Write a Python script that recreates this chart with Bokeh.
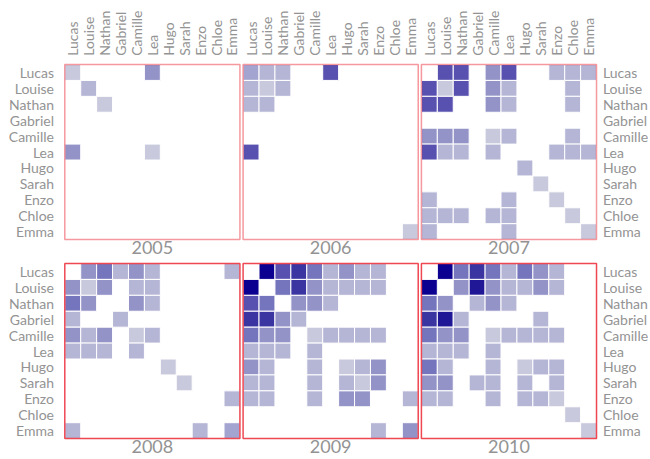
import math
from bokeh.plotting import figure
from bokeh.models import ColumnDataSource, Range1d
from bokeh.core.properties import value
from bokeh.embed import file_html
from bokeh.resources import INLINE

# ---------------- data ----------------
names = ["Lucas", "Louise", "Nathan", "Gabriel", "Camille", "Lea",
         "Hugo", "Sarah", "Enzo", "Chloe", "Emma"]
years = ["2005", "2006", "2007", "2008", "2009", "2010"]

m2005 = [
    [1, 0, 0, 0, 0, 4, 0, 0, 0, 0, 0],
    [0, 2, 0, 0, 0, 0, 0, 0, 0, 0, 0],
    [0, 0, 1, 0, 0, 0, 0, 0, 0, 0, 0],
    [0, 0, 0, 0, 0, 0, 0, 0, 0, 0, 0],
    [0, 0, 0, 0, 0, 0, 0, 0, 0, 0, 0],
    [4, 0, 0, 0, 0, 1, 0, 0, 0, 0, 0],
    [0, 0, 0, 0, 0, 0, 0, 0, 0, 0, 0],
    [0, 0, 0, 0, 0, 0, 0, 0, 0, 0, 0],
    [0, 0, 0, 0, 0, 0, 0, 0, 0, 0, 0],
    [0, 0, 0, 0, 0, 0, 0, 0, 0, 0, 0],
    [0, 0, 0, 0, 0, 0, 0, 0, 0, 0, 0],
]
m2006 = [
    [3, 2, 2, 0, 0, 6, 0, 0, 0, 0, 0],
    [2, 1, 2, 0, 0, 0, 0, 0, 0, 0, 0],
    [2, 2, 0, 0, 0, 0, 0, 0, 0, 0, 0],
    [0, 0, 0, 0, 0, 0, 0, 0, 0, 0, 0],
    [0, 0, 0, 0, 0, 0, 0, 0, 0, 0, 0],
    [6, 0, 0, 0, 0, 0, 0, 0, 0, 0, 0],
    [0, 0, 0, 0, 0, 0, 0, 0, 0, 0, 0],
    [0, 0, 0, 0, 0, 0, 0, 0, 0, 0, 0],
    [0, 0, 0, 0, 0, 0, 0, 0, 0, 0, 0],
    [0, 0, 0, 0, 0, 0, 0, 0, 0, 0, 0],
    [0, 0, 0, 0, 0, 0, 0, 0, 0, 0, 1],
]
m2007 = [
    [0, 6, 6, 0, 4, 6, 0, 0, 2, 2, 2],
    [6, 1, 6, 0, 4, 2, 0, 0, 0, 2, 0],
    [6, 6, 0, 0, 4, 2, 0, 0, 0, 2, 0],
    [0, 0, 0, 0, 0, 0, 0, 0, 0, 0, 0],
    [4, 4, 4, 0, 1, 2, 0, 0, 0, 2, 0],
    [6, 2, 2, 0, 2, 0, 0, 0, 2, 2, 2],
    [0, 0, 0, 0, 0, 0, 2, 0, 0, 0, 0],
    [0, 0, 0, 0, 0, 0, 0, 1, 0, 0, 0],
    [2, 0, 0, 0, 0, 2, 0, 0, 1, 0, 0],
    [2, 2, 2, 0, 2, 2, 0, 0, 0, 1, 0],
    [2, 0, 0, 0, 0, 2, 0, 0, 0, 0, 1],
]
m2008 = [
    [0, 4, 5, 2, 4, 2, 0, 0, 0, 0, 2],
    [4, 1, 4, 0, 2, 2, 0, 0, 0, 0, 0],
    [5, 4, 0, 0, 4, 2, 0, 0, 0, 0, 0],
    [2, 0, 0, 2, 0, 0, 0, 0, 0, 0, 0],
    [4, 2, 4, 0, 1, 2, 0, 0, 0, 0, 0],
    [2, 2, 2, 0, 2, 0, 0, 0, 0, 0, 0],
    [0, 0, 0, 0, 0, 0, 1, 0, 0, 0, 0],
    [0, 0, 0, 0, 0, 0, 0, 1, 0, 0, 0],
    [0, 0, 0, 0, 0, 0, 0, 0, 0, 0, 2],
    [0, 0, 0, 0, 0, 0, 0, 0, 0, 0, 0],
    [2, 0, 0, 0, 0, 0, 0, 0, 2, 0, 3],
]
m2009 = [
    [0, 9, 6, 7, 5, 2, 4, 2, 2, 0, 0],
    [9, 0, 5, 7, 4, 2, 2, 2, 2, 0, 0],
    [6, 5, 0, 4, 4, 2, 0, 0, 0, 0, 0],
    [7, 7, 4, 2, 0, 0, 0, 0, 0, 0, 0],
    [5, 4, 4, 0, 1, 2, 2, 2, 2, 0, 0],
    [2, 2, 2, 0, 2, 0, 0, 0, 0, 0, 0],
    [4, 2, 0, 0, 2, 0, 1, 2, 4, 0, 0],
    [2, 2, 0, 0, 2, 0, 2, 1, 4, 0, 0],
    [2, 2, 0, 0, 2, 0, 4, 4, 0, 0, 2],
    [0, 0, 0, 0, 0, 0, 0, 0, 0, 0, 0],
    [0, 0, 0, 0, 0, 0, 0, 0, 2, 0, 4],
]
m2010 = [
    [0, 9, 5, 7, 5, 2, 5, 4, 2, 0, 0],
    [9, 0, 4, 8, 4, 2, 2, 4, 2, 0, 0],
    [5, 4, 0, 2, 4, 2, 0, 0, 0, 0, 0],
    [7, 8, 2, 0, 0, 0, 0, 2, 0, 0, 0],
    [5, 4, 4, 0, 1, 2, 2, 2, 2, 0, 0],
    [2, 2, 2, 0, 2, 0, 0, 0, 0, 0, 0],
    [5, 2, 0, 0, 2, 0, 1, 2, 2, 0, 0],
    [4, 4, 0, 2, 2, 0, 2, 0, 2, 0, 0],
    [2, 2, 0, 0, 2, 0, 2, 2, 1, 0, 0],
    [0, 0, 0, 0, 0, 0, 0, 0, 0, 1, 0],
    [0, 0, 0, 0, 0, 0, 0, 0, 0, 0, 1],
]
matrices = [m2005, m2006, m2007, m2008, m2009, m2010]

# ---------------- style / layout ----------------
PALETTE = ["#c9c9dd", "#b5b5d6", "#a4a4d0", "#9393c8", "#7575bd",
           "#5951b0", "#3b35a2", "#1f1795", "#0b008f"]
FONT = value("Lato")
TXT = "#939393"
W, H = 650, 459
CELL = 15.92            # px per cell
LEFT_PX, TOP_PX = 64.3, 64.0
GX, GY = 0.2, 1.5       # gaps between panels, in cell units
N = len(names)

x_range = Range1d(-LEFT_PX / CELL, (W - LEFT_PX) / CELL)
y_range = Range1d((H - TOP_PX) / CELL, -TOP_PX / CELL)

p = figure(width=W, height=H, x_range=x_range, y_range=y_range,
           output_backend="svg", toolbar_location=None, title=None,
           x_axis_location=None, y_axis_location=None,
           min_border=0, min_border_left=0, min_border_right=0,
           min_border_top=0, min_border_bottom=0)
p.outline_line_color = None
p.grid.grid_line_color = None
p.background_fill_color = "white"
p.border_fill_color = "white"

def origin(i):
    return (i % 3) * (N + GX), (i // 3) * (N + GY)

xs, ys, cs = [], [], []
for i, mat in enumerate(matrices):
    ox, oy = origin(i)
    for r, row in enumerate(mat):
        for c, v in enumerate(row):
            if v:
                xs.append(ox + c + 0.5)
                ys.append(oy + r + 0.5)
                cs.append(PALETTE[v - 1])
p.rect(x="x", y="y", width=1, height=1, source=ColumnDataSource(dict(x=xs, y=ys, color=cs)),
       fill_color="color", line_color="white", line_width=1)

# panel borders
for i in range(len(years)):
    ox, oy = origin(i)
    top_row = i < 3
    p.rect(x=ox + N / 2, y=oy + N / 2, width=N, height=N, fill_color=None,
           line_color="#ec3440", line_alpha=0.5 if top_row else 0.9, line_width=1.5)

# year labels
yx, yy = [], []
for i in range(len(years)):
    ox, oy = origin(i)
    yx.append(ox + N / 2)
    yy.append(oy + N + 0.08)
p.text(x=yx, y=yy, text=years, text_font=FONT, text_font_size="18px",
       text_color=TXT, text_align="center", text_baseline="top")

# left / right labels
lx, ly, lt, rx = [], [], [], []
for q in range(2):
    oy = q * (N + GY)
    for r, nm in enumerate(names):
        lx.append(-0.68)
        rx.append(2 * (N + GX) + N + 0.4)
        ly.append(oy + r + 0.5)
        lt.append(nm)
p.text(x=lx, y=ly, text=lt, text_font=FONT, text_font_size="14px",
       text_color=TXT, text_align="right", text_baseline="middle")
p.text(x=rx, y=ly, text=lt, text_font=FONT, text_font_size="14px",
       text_color=TXT, text_align="left", text_baseline="middle")

# top labels (rotated)
tx, tt = [], []
for k in range(3):
    ox = k * (N + GX)
    for c, nm in enumerate(names):
        tx.append(ox + c + 0.5)
        tt.append(nm)
p.text(x=tx, y=[-0.55] * len(tx), text=tt, angle=math.pi / 2, text_font=FONT,
       text_font_size="14px", text_color=TXT, text_align="left", text_baseline="middle")

open("out.html", "w").write(file_html(p, INLINE))
